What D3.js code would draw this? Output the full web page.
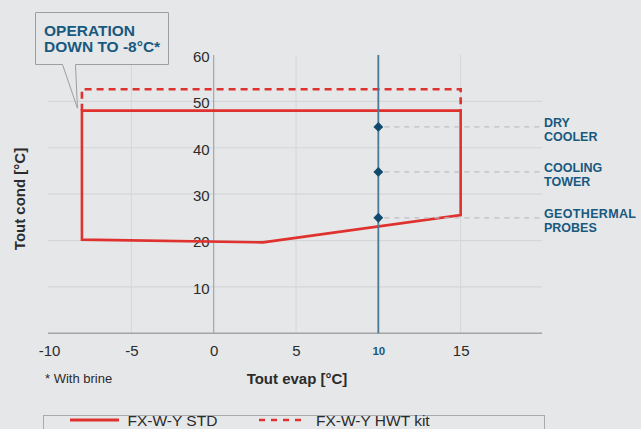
<!DOCTYPE html>
<html>
<head>
<meta charset="utf-8">
<script src="https://cdn.jsdelivr.net/npm/d3@7"></script>
<style>
  body { margin: 0; background: #e6e7e9; }
  svg { display: block; font-family: "Liberation Sans", Arial, sans-serif; }
</style>
</head>
<body>
<svg id="chart" width="641" height="429"></svg>
<script>
// chart values
var xTicks = [-10, -5, 0, 5, 10, 15];
var yTicks = [10, 20, 30, 40, 50, 60];
var xGrid = [-5, 5, 15];
var yGrid = [10, 20, 30, 40, 50];

// FX-W-Y STD envelope (closed)
var stdEvap = [-8, 15, 15, 3, -8];
var stdCond = [48, 48, 25.5, 19.6, 20.2];

// FX-W-Y HWT kit extension (open)
var hwtEvap = [-8, -8, 15, 15];
var hwtCond = [48, 52.6, 52.6, 48];

var designEvap = 10;
var sourceNames = [["DRY", "COOLER"], ["COOLING", "TOWER"], ["GEOTHERMAL", "PROBES"]];
var sourceCond = [44.5, 34.8, 24.9];

var red = "#df312e", blue = "#18597f", navy = "#0f4a6e";

var svg = d3.select("#chart");
svg.append("rect").attr("width", 641).attr("height", 429).attr("fill", "#e6e7e9");

var x = d3.scaleLinear().domain([-10, 20]).range([49, 543]);
var y = d3.scaleLinear().domain([0, 60]).range([333.3, 55]);

// grid
svg.append("g").selectAll("line").data(yGrid).join("line")
    .attr("x1", 48).attr("x2", 542)
    .attr("y1", d => y(d)).attr("y2", d => y(d))
    .attr("stroke", "#d5d6d9").attr("stroke-width", 1.2);
svg.append("g").selectAll("line").data(xGrid).join("line")
    .attr("x1", d => x(d)).attr("x2", d => x(d))
    .attr("y1", y(60)).attr("y2", y(0))
    .attr("stroke", "#d5d6d9").attr("stroke-width", 1);

// axis lines
svg.append("line").attr("x1", x(0)).attr("x2", x(0)).attr("y1", y(60)).attr("y2", y(0))
    .attr("stroke", "#a3a4a7").attr("stroke-width", 1.2);
svg.append("line").attr("x1", 48).attr("x2", 542).attr("y1", y(0)).attr("y2", y(0))
    .attr("stroke", "#a3a4a7").attr("stroke-width", 1.4);

// tick labels via d3 axes (plain hyphen for negatives, like the original)
var xAxis = svg.append("g").attr("transform", "translate(0," + y(0) + ")")
    .call(d3.axisBottom(x).tickValues(xTicks).tickSize(0).tickPadding(12).tickFormat(d => String(d)));
xAxis.select(".domain").remove();
xAxis.selectAll("text").attr("font-size", 15).attr("fill", "#2b2b2b")
    .attr("font-family", "Liberation Sans, Arial, sans-serif");
xAxis.selectAll(".tick").filter(d => d === designEvap).select("text")
    .attr("font-size", 11.5).attr("font-weight", "bold").attr("fill", blue).attr("dy", "0.85em");

var yAxis = svg.append("g").attr("transform", "translate(" + x(0) + ",0)")
    .call(d3.axisLeft(y).tickValues(yTicks).tickSize(0).tickPadding(4).tickFormat(d => String(d)));
yAxis.select(".domain").remove();
yAxis.selectAll("text").attr("font-size", 15).attr("fill", "#2b2b2b").attr("dy", "0.42em")
    .attr("font-family", "Liberation Sans, Arial, sans-serif");

// envelopes
var line = d3.line().x(d => x(d[0])).y(d => y(d[1]));
svg.append("path")
    .attr("d", line.curve(d3.curveLinearClosed)(d3.zip(stdEvap, stdCond)))
    .attr("fill", "none").attr("stroke", red).attr("stroke-width", 2.6);
svg.append("path")
    .attr("d", d3.line().x(d => x(d[0])).y(d => y(d[1]))(d3.zip(hwtEvap, hwtCond)))
    .attr("fill", "none").attr("stroke", red).attr("stroke-width", 2.6)
    .attr("stroke-dasharray", "7,5");

// heat source guides
svg.append("g").selectAll("line").data(sourceCond).join("line")
    .attr("x1", x(designEvap) + 6).attr("x2", 542)
    .attr("y1", d => y(d)).attr("y2", d => y(d))
    .attr("stroke", "#bdbec1").attr("stroke-width", 1.2).attr("stroke-dasharray", "5,5");

svg.append("line").attr("x1", x(designEvap)).attr("x2", x(designEvap))
    .attr("y1", y(60)).attr("y2", y(0))
    .attr("stroke", "#4b7896").attr("stroke-width", 1.8);

svg.append("g").selectAll("path").data(sourceCond).join("path")
    .attr("d", d3.symbol(d3.symbolDiamond2, 62))
    .attr("transform", d => "translate(" + x(designEvap) + "," + y(d) + ")")
    .attr("fill", navy);

// two-line labels, one text element per line
var labelRows = [];
sourceNames.forEach(function (rows, i) {
    rows.forEach(function (r, j) { labelRows.push({ t: r, c: sourceCond[i], j: j }); });
});
svg.append("g").selectAll("text").data(labelRows).join("text")
    .attr("x", 544).attr("y", d => y(d.c) + 0.5 + d.j * 13.5)
    .attr("font-size", 12.5).attr("font-weight", "bold").attr("fill", blue)
    .attr("textLength", d => d.t === "GEOTHERMAL" ? 92 : null)
    .text(d => d.t);

// axis titles
svg.append("text").attr("x", 297).attr("y", 383.5).attr("text-anchor", "middle")
    .attr("font-size", 15).attr("font-weight", "bold").attr("fill", "#2b2b2b")
    .text("Tout evap [°C]");
svg.append("text").attr("transform", "translate(24.5,199) rotate(-90)")
    .attr("text-anchor", "middle")
    .attr("font-size", 15).attr("font-weight", "bold").attr("fill", "#2b2b2b")
    .text("Tout cond [°C]");
svg.append("text").attr("x", 45).attr("y", 383).attr("font-size", 13).attr("fill", "#2b2b2b")
    .text("* With brine");

// callout
var tipX = x(-8) - 4.5, tipY = y(48) - 2.5;
svg.append("path")
    .attr("d", "M35.5,12.5H168.5V64.5H75.5L" + tipX + "," + tipY + "L62.5,64.5H35.5Z")
    .attr("fill", "#e6e7e9").attr("stroke", "#9d9ea1").attr("stroke-width", 1);
var callout = svg.append("g").attr("font-size", 15.5).attr("font-weight", "bold").attr("fill", blue);
callout.append("text").attr("x", 44).attr("y", 36).text("OPERATION");
callout.append("text").attr("x", 44).attr("y", 52).text("DOWN TO -8°C*");

// legend
svg.append("rect").attr("x", 43.5).attr("y", 415.5).attr("width", 501).attr("height", 30)
    .attr("fill", "none").attr("stroke", "#a9aaad").attr("stroke-width", 1);
svg.append("line").attr("x1", 70).attr("x2", 119).attr("y1", 420).attr("y2", 420)
    .attr("stroke", red).attr("stroke-width", 2.8);
svg.append("line").attr("x1", 259).attr("x2", 303).attr("y1", 420).attr("y2", 420)
    .attr("stroke", red).attr("stroke-width", 2.4).attr("stroke-dasharray", "6,6");
svg.append("text").attr("x", 127.5).attr("y", 425.5).attr("font-size", 15.5).attr("fill", "#2b2b2b")
    .text("FX-W-Y STD");
svg.append("text").attr("x", 316).attr("y", 425.5).attr("font-size", 15.5).attr("fill", "#2b2b2b")
    .text("FX-W-Y HWT kit");
</script>
</body>
</html>
